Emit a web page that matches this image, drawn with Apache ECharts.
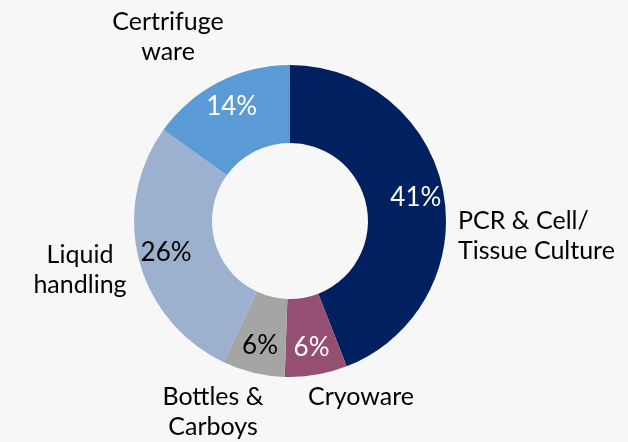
<!DOCTYPE html>
<html>
<head>
<meta charset="utf-8">
<script src="https://cdn.jsdelivr.net/npm/echarts@6/dist/echarts.min.js"></script>
<style>
  html, body { margin: 0; padding: 0; background: #f7f7f7; }
  #chart { width: 628px; height: 442px; }
</style>
</head>
<body>
<div id="chart"></div>
<script>
// segment names, clockwise from 12 o'clock
var categories = ['PCR & Cell/\nTissue Culture', 'Cryoware', 'Bottles &\nCarboys', 'Liquid\nhandling', 'Certrifuge\nware'];
var shares = [41, 6, 6, 26, 14];
var colors = ['#00205f', '#954f72', '#a5a5a5', '#9cb0d0', '#5b9bd5'];
var pctColors = ['#ffffff', '#ffffff', '#000000', '#000000', '#ffffff'];

// where the category names sit (x, y, align)
var namePos = [
  [458, 236, 'left'],
  [361, 397, 'center'],
  [213, 412, 'center'],
  [80, 270, 'center'],
  [168, 37, 'center']
];

var font = 'Lato, "Open Sans", sans-serif';
var center = [290, 221];

var chart = echarts.init(document.getElementById('chart'));
chart.setOption({
  animation: false,
  backgroundColor: '#f7f7f7',
  series: [
    {
      //环形图本体
      type: 'pie',
      center: center,
      radius: [78, 156],
      startAngle: 90,
      clockwise: true,
      silent: true,
      data: categories.map(function (name, i) {
        return { name: name, value: shares[i], itemStyle: { color: colors[i] } };
      }),
      label: { show: false },
      labelLine: { show: false }
    },
    {
      //百分比标签 (透明扇区, 让标签落在更外侧)
      type: 'pie',
      center: center,
      radius: [78, 172],
      startAngle: 90,
      clockwise: true,
      silent: true,
      z: 3,
      itemStyle: { color: 'rgba(0,0,0,0)' },
      data: categories.map(function (name, i) {
        return { name: name, value: shares[i], label: { color: pctColors[i] } };
      }),
      label: {
        show: true,
        position: 'inside',
        formatter: '{c}%',
        fontFamily: font,
        fontSize: 26
      },
      labelLine: { show: false }
    },
    {
      //外侧名称
      type: 'pie',
      center: center,
      radius: [78, 156],
      startAngle: 90,
      clockwise: true,
      silent: true,
      z: 3,
      itemStyle: { color: 'rgba(0,0,0,0)' },
      data: categories.map(function (name, i) {
        return { name: name, value: shares[i] };
      }),
      label: {
        show: true,
        position: 'outside',
        formatter: '{b}',
        color: '#000000',
        fontFamily: font,
        fontSize: 25,
        lineHeight: 30,
        overflow: 'none',
        width: 300
      },
      labelLine: { show: false },
      labelLayout: function (params) {
        var p = namePos[params.dataIndex];
        return { x: p[0], y: p[1], align: p[2], verticalAlign: 'middle' };
      }
    }
  ]
});
</script>
</body>
</html>
